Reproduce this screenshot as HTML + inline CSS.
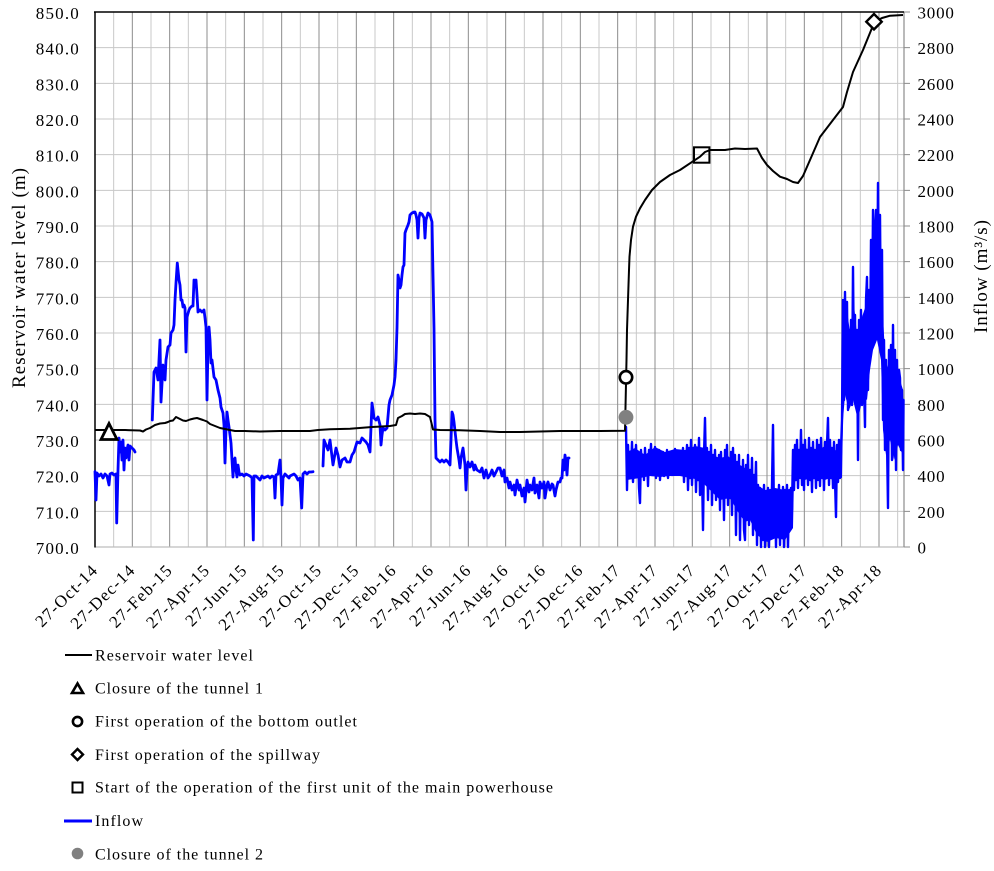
<!DOCTYPE html>
<html>
<head>
<meta charset="utf-8">
<style>
html,body{margin:0;padding:0;background:#fff;}
svg{display:block;}
text{font-family:"Liberation Serif","Times New Roman",serif;fill:#000;}
</style>
</head>
<body>
<svg width="994" height="871" viewBox="0 0 994 871" xmlns="http://www.w3.org/2000/svg">
<rect x="0" y="0" width="994" height="871" fill="#fff"/>

<!-- horizontal gridlines -->
<path d="M95 47.67H904M95 83.33H904M95 119H904M95 154.67H904M95 190.33H904M95 226H904M95 261.67H904M95 297.33H904M95 333H904M95 368.67H904M95 404.33H904M95 440H904M95 475.67H904M95 511.33H904" stroke="#c8c8c8" stroke-width="1" fill="none"/>
<!-- minor verticals -->
<path d="M113.67 12V547M151 12V547M188.33 12V547M225.67 12V547M263 12V547M300.33 12V547M337.67 12V547M375 12V547M412.33 12V547M449.67 12V547M487 12V547M524.33 12V547M561.67 12V547M599 12V547M636.33 12V547M673.67 12V547M711 12V547M748.33 12V547M785.67 12V547M823 12V547M860.33 12V547M897.67 12V547" stroke="#c8c8c8" stroke-width="1" fill="none"/>
<!-- major verticals -->
<path d="M132.33 12V547M169.67 12V547M207 12V547M244.33 12V547M281.67 12V547M319 12V547M356.33 12V547M393.67 12V547M431 12V547M468.33 12V547M505.67 12V547M543 12V547M580.33 12V547M617.67 12V547M655 12V547M692.33 12V547M729.67 12V547M767 12V547M804.33 12V547M841.67 12V547M879 12V547" stroke="#8c8c8c" stroke-width="1" fill="none"/>

<!-- axes -->
<line x1="95" y1="547" x2="904" y2="547" stroke="#bdbdbd" stroke-width="1.2"/>
<line x1="904" y1="12" x2="904" y2="547" stroke="#8c8c8c" stroke-width="1.2"/>
<path d="M904 12H910M904 47.67H910M904 83.33H910M904 119H910M904 154.67H910M904 190.33H910M904 226H910M904 261.67H910M904 297.33H910M904 333H910M904 368.67H910M904 404.33H910M904 440H910M904 475.67H910M904 511.33H910M904 547H910" stroke="#8c8c8c" stroke-width="1"/>
<line x1="94" y1="12" x2="904" y2="12" stroke="#000" stroke-width="1.5"/>
<line x1="95" y1="11.5" x2="95" y2="547.5" stroke="#000" stroke-width="1.5"/>

<!-- inflow dense band fills -->
<g fill="#0000ff">
<polygon points="627,452 635,448 645,455 655,447 665,452 675,449 685,450 695,446 705,448 712,455 720,458 728,456 735,462 745,468 752,475 757,485 765,490 775,488 785,490 793,488 794,455 805,448 815,452 825,446 835,450 842,452 843,330 847,310 851,340 853,295 857,335 861,320 866,305 869,320 871,260 874,240 876,225 878,205 880,250 882,300 886,370 890,360 895,365 900,380 903,390 903,455 898,445 894,460 890,440 886,455 883,430 881,360 877,340 873,350 870,370 867,400 863,395 858,420 853,400 849,410 845,395 843,420 842,478 835,476 825,480 815,476 805,480 794,478 793,528 785,540 776,538 767,542 757,535 750,520 745,522 738,512 730,498 720,500 712,492 700,480 690,478 680,476 670,476 660,477 650,476 640,478 627,480"/>
</g>

<!-- inflow series -->
<g fill="none" stroke="#0000ff" stroke-width="2.8" stroke-linejoin="round" stroke-linecap="round">
<polyline points="95,471.7 96,500 97,473 99,476 101,474 103,478 105,474 107,476 109,485 110,474 112,473 114,475 116,474 116.7,523 118,470 119,438 120,452 121,442 122,460 123,440 124,470 125,448 126,458 127,450 128,445 129,460 130,446 132,448 134,450 135,452"/>
<polyline points="152.3,420 154,372 156,368 158,380 160,340 161,402 163,365 165,380 166,360 168,347 170,345 171,333 173,330 174,325 175,300 176,283 177.3,263 178,270 179,280 180,285 181,300 182,300 183,307 184,305 185,308 186,352 187,317 189,310 190,308 192,306 193,306 194,280 195,285 196,280 197,295 198,312 200,310 202,312 204,310 205,318 206,327 207,400 208,345 209,327 210,340 211,363 212,360 214,377 216,380 218,390 220,398 221,407 223,413 224,425 225,463 226,430 227,412 228,420 229,427 230,435 231,443 232,460 233,477 234,460 235,458 236,470 237,477 238,465 239,472 240,475 242,474 244,476 246,474 248,475 250,476 252,478 253.3,540 254,476 256,476 258,478 260,480 262,476 264,478 266,477 268,476 270,478 272,476 274,477 275,498 276,475 278,474 280,460 281,477 282,505 283,478 285,474 287,476 289,478 290,476 292,475 294,474 296,476 298,480 300,478 301.7,508 303,474 305,472 307,474 309,472 311,472 313,471.7"/>
<polyline points="323,466 324,440 326,445 328,450 330,440 333,465 336,448 338,455 340,467 342,460 345,458 347,462 350,462 352,455 354,452 357,442 360,443 362,438 364,440 366,442 368,445 370,452 372,403 373,410 374,418 376,420 378,417 380,425 381,445 382,435 383,428 385,430 387,428 389,405 390,400 392,395 394,385 395,377 396,360 397,328 398,275 399,280 400,288 401,285 402,275 403,267 404,265 405,233 406,230 408,225 409,222 410,215 412,213 414,212 415,212 416,215 417,220 418,238 419,218 420,213 422,214 424,218 425,238 426,220 428,213 430,215 432,222 434,328 435,420 436,458 438,460 440,462 442,460 444,462 446,460 448,462 450,465 451,440 452,412 453,415 454,422 456,440 457,448 459,460 460,468 461,458 463,448 465,465 466,490 467,470 468,462 470,467 472,462 474,470 475,465 477,470 480,472 482,468 484,478 486,470 488,478 490,475 492,470 494,476 496,472 498,468 500,468 502,476 504,470 505,482 507,478 509,488 510,482 512,490 514,485 515,495 517,480 519,490 520,485 522,496 524,488 525,502 527,480 529,492 530,485 532,490 534,478 535,493 537,485 539,498 540,482 542,488 544,482 545,498 547,485 548,482 550,490 552,484 553,485 555,496 556,490 558,482 560,482 561,478 562,478 563,460 564,470 565,455 566,462 567,475 568,458 569,458"/>
<polyline stroke-width="2.4" points="626,427 627,490 628,445 629,478 630,455 631,470 632,442 633,482 634,450 635,468 636,445 637,476 638,452 639,488 640,503 641,450 642,470 643,455 644,480 645,448 646,472 647,458 648,486 649,450 650,466 651,444 652,475 653,455 654,470 655,447 656,478 657,456 658,468 659,450 660,480 661,458 662,470 663,452 664,476 665,460 666,470 667,450 668,478 669,455 670,466 671,452 672,475 673,458 674,470 675,449 676,472 677,456 678,468 679,452 680,474 681,458 682,470 683,448 684,482 685,452 686,470 687,445 688,490 689,448 690,478 691,440 692,485 693,450 694,476 695,445 696,492 697,448 698,480 699,438 700,495 701,450 702,470 703,530 704,455 705,418 706,475 707,448 708,500 709,452 710,488 711,445 712,505 713,455 714,490 715,450 716,500 717,460 718,485 719,455 720,510 721,452 722,495 723,465 724,520 725,450 726,490 727,445 728,505 729,460 730,498 731,452 732,515 733,448 734,495 735,455 736,535 737,462 738,510 739,455 740,540 741,470 742,500 743,460 744,530 745,540 746,465 747,505 748,455 749,525 750,470 751,510 752,458 753,535 754,475 755,500 756,462 757,545 758,485 759,530 760,488 761,547 762,490 763,540 764,485 765,547 766,495 767,535 768,488 769,547 770,492 771,530 772,485 773,425 774,520 775,490 776,547 777,495 778,525 779,485 780,545 781,492 782,530 783,487 784,547 785,490 786,520 787,485 788,547 789,495 790,525 791,488 792,510 793,450 794,490 795,445 796,480 797,440 798,488 799,450 800,475 801,430 802,485 803,445 804,490 805,440 806,478 807,450 808,485 809,438 810,480 811,448 812,492 813,442 814,478 815,450 816,488 817,440 818,480 819,445 820,486 821,438 822,478 823,450 824,490 825,442 826,475 827,445 828,418 829,485 830,440 831,478 832,448 833,488 834,442 835,480 836,517 837,445 838,482 839,440 840,478 841,450 842,420 843,300 844,400 845,292 846,380 847,302 848,410 849,330 850,395 851,320 852,405 853,267 854,380 855,315 856,400 857,330 858,460 859,320 860,395 861,310 862,405 863,330 864,385 865,427 866,300 867,277 868,390 869,290 870,355 871,240 872,340 873,210 874,330 875,230 876,210 877,320 878,183 879,300 880,215 881,350 882,250 883,420 884,340 885,450 886,360 887,440 888,508 889,350 890,430 891,345 892,460 893,325 894,440 895,350 896,470 897,360 898,430 899,370 900,378 901,450 902,390 903,470 903.5,400"/>
</g>

<!-- reservoir level -->
<polyline fill="none" stroke="#000" stroke-width="2" stroke-linejoin="round" points="95,430 110,430 125,430 140,430.5 143,431.5 146,429.5 150,428 155,425 160,423.5 165,423 168,422 170,421 173,420.5 176,417 178,418 180,419 183,420.5 186,421 190,419.5 194,418.5 197,418 200,419 203,420 207,421.5 210,424 215,426 220,428 225,429 230,430 235,431 245,431 260,431.5 280,431 300,431 310,431 318,430 330,429.3 350,428.7 372,427 390,426 396,425 398,418 402,416 405,414 410,413.5 415,414 420,413.5 425,414 430,417 433,429.5 440,430 460,430.3 480,431 500,432 520,432 540,431.5 560,431 580,431 600,431 625,430.7 626.5,360 627,330 628,300 629,270 629.5,256.7 631,240 633,226.7 636,216.7 640,208.3 645,200 652,190 660,182 670,175 680,170 690,163.3 700,156.7 705,152 710,150 725,150 735,148.5 745,149 757,148.5 762,158 767,165 773,171 780,176.7 787,179 793,182 798,183 803,176 810,160 820,137 833,120 843,107 847,92 853,72 863,50 872,28 874,22 882,18 890,15.7 903,15"/>

<!-- markers on chart -->
<polygon points="109,423.5 101,439.5 117,439.5" fill="#fff" stroke="#000" stroke-width="2.8" stroke-linejoin="miter"/>
<circle cx="626" cy="377.3" r="6.2" fill="#fff" stroke="#000" stroke-width="2.6"/>
<circle cx="626" cy="417.3" r="7.4" fill="#808080"/>
<rect x="694" y="147.3" width="15.4" height="15.4" fill="none" stroke="#000" stroke-width="2"/>
<polygon points="874,14 881.7,21.7 874,29.4 866.3,21.7" fill="#fff" stroke="#000" stroke-width="2.4"/>

<!-- left tick labels -->
<g font-size="17" text-anchor="end" letter-spacing="1.2">
<text x="80" y="19">850.0</text>
<text x="80" y="54.67">840.0</text>
<text x="80" y="90.33">830.0</text>
<text x="80" y="126">820.0</text>
<text x="80" y="161.67">810.0</text>
<text x="80" y="197.33">800.0</text>
<text x="80" y="233">790.0</text>
<text x="80" y="268.67">780.0</text>
<text x="80" y="304.33">770.0</text>
<text x="80" y="340">760.0</text>
<text x="80" y="375.67">750.0</text>
<text x="80" y="411.33">740.0</text>
<text x="80" y="447">730.0</text>
<text x="80" y="482.67">720.0</text>
<text x="80" y="518.33">710.0</text>
<text x="80" y="554">700.0</text>
</g>

<!-- right tick labels -->
<g font-size="17" letter-spacing="0.8">
<text x="917.5" y="18.5">3000</text>
<text x="917.5" y="54.17">2800</text>
<text x="917.5" y="89.83">2600</text>
<text x="917.5" y="125.5">2400</text>
<text x="917.5" y="161.17">2200</text>
<text x="917.5" y="196.83">2000</text>
<text x="917.5" y="232.5">1800</text>
<text x="917.5" y="268.17">1600</text>
<text x="917.5" y="303.83">1400</text>
<text x="917.5" y="339.5">1200</text>
<text x="917.5" y="375.17">1000</text>
<text x="917.5" y="410.83">800</text>
<text x="917.5" y="446.5">600</text>
<text x="917.5" y="482.17">400</text>
<text x="917.5" y="517.83">200</text>
<text x="917.5" y="553.5">0</text>
</g>

<!-- x labels -->
<g font-size="17" text-anchor="end" letter-spacing="1.2">
<text transform="translate(99,571) rotate(-45)">27-Oct-14</text>
<text transform="translate(136.33,571) rotate(-45)">27-Dec-14</text>
<text transform="translate(173.67,571) rotate(-45)">27-Feb-15</text>
<text transform="translate(211,571) rotate(-45)">27-Apr-15</text>
<text transform="translate(248.33,571) rotate(-45)">27-Jun-15</text>
<text transform="translate(285.67,571) rotate(-45)">27-Aug-15</text>
<text transform="translate(323,571) rotate(-45)">27-Oct-15</text>
<text transform="translate(360.33,571) rotate(-45)">27-Dec-15</text>
<text transform="translate(397.67,571) rotate(-45)">27-Feb-16</text>
<text transform="translate(435,571) rotate(-45)">27-Apr-16</text>
<text transform="translate(472.33,571) rotate(-45)">27-Jun-16</text>
<text transform="translate(509.67,571) rotate(-45)">27-Aug-16</text>
<text transform="translate(547,571) rotate(-45)">27-Oct-16</text>
<text transform="translate(584.33,571) rotate(-45)">27-Dec-16</text>
<text transform="translate(621.67,571) rotate(-45)">27-Feb-17</text>
<text transform="translate(659,571) rotate(-45)">27-Apr-17</text>
<text transform="translate(696.33,571) rotate(-45)">27-Jun-17</text>
<text transform="translate(733.67,571) rotate(-45)">27-Aug-17</text>
<text transform="translate(771,571) rotate(-45)">27-Oct-17</text>
<text transform="translate(808.33,571) rotate(-45)">27-Dec-17</text>
<text transform="translate(845.67,571) rotate(-45)">27-Feb-18</text>
<text transform="translate(883,571) rotate(-45)">27-Apr-18</text>
</g>

<!-- axis titles -->
<text font-size="19" text-anchor="middle" transform="translate(25,278) rotate(-90)" textLength="220" lengthAdjust="spacing">Reservoir water level (m)</text>
<text font-size="19" text-anchor="middle" transform="translate(987,276.5) rotate(-90)" textLength="113" lengthAdjust="spacing">Inflow (m³/s)</text>

<!-- legend -->
<line x1="65" y1="655" x2="92" y2="655" stroke="#000" stroke-width="2"/>
<text x="95" y="660.7" font-size="16" textLength="158" lengthAdjust="spacing">Reservoir water level</text>

<polygon points="77.5,683.5 72,693 83,693" fill="#fff" stroke="#000" stroke-width="2.6"/>
<text x="95" y="693.3" font-size="16" textLength="168" lengthAdjust="spacing">Closure of the tunnel 1</text>

<circle cx="77.5" cy="721.5" r="4.6" fill="#fff" stroke="#000" stroke-width="2.6"/>
<text x="95" y="726.7" font-size="16" textLength="262" lengthAdjust="spacing">First operation of the bottom outlet</text>

<polygon points="77.5,749 83,754.5 77.5,760 72,754.5" fill="#fff" stroke="#000" stroke-width="2.4"/>
<text x="95" y="760" font-size="16" textLength="225" lengthAdjust="spacing">First operation of the spillway</text>

<rect x="72.5" y="782.5" width="10" height="10" fill="#fff" stroke="#000" stroke-width="2"/>
<text x="95" y="792.7" font-size="16" textLength="458" lengthAdjust="spacing">Start of the operation of the first unit of the main powerhouse</text>

<line x1="64" y1="821" x2="92" y2="821" stroke="#0000ff" stroke-width="3"/>
<text x="95" y="826" font-size="16" textLength="48" lengthAdjust="spacing">Inflow</text>

<circle cx="77.5" cy="853.5" r="5.8" fill="#808080"/>
<text x="95" y="859.3" font-size="16" textLength="168" lengthAdjust="spacing">Closure of the tunnel 2</text>
</svg>
</body>
</html>
